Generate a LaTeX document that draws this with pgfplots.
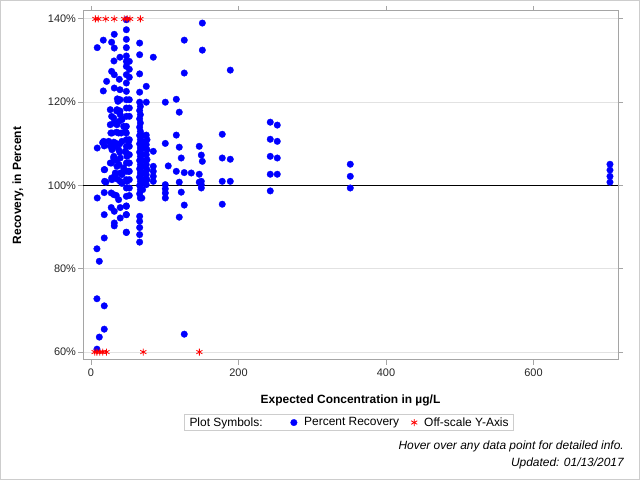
\documentclass[border=0pt]{standalone}
\usepackage{pgfplots}
\pgfplotsset{compat=1.18}
\usepackage{fontspec}
\setmainfont{Liberation Sans}
\definecolor{framegray}{RGB}{165,165,165}
\definecolor{gridgray}{RGB}{226,226,226}
\definecolor{boxgray}{RGB}{205,205,205}

% Percent recovery for each sample, by expected concentration (ug/L)
\pgfplotstableread{
x y
8.5 133.1
16.7 134.9
28 134.4
31.6 136.3
31.6 133
31.2 129.9
39.3 130.8
28 127.4
31.6 126.6
38.4 125.5
21.2 125
16.7 122.7
31.6 123.4
39.3 123
35.7 120.8
39.3 120.6
28 116.6
34.8 117.9
39.3 117.9
31.2 115
38 115.4
27 112.6
34.8 112.8
41 112.6
8.5 109
15.8 110.3
18 109.5
26 109.5
31 110.4
33 109.5
39 110
39 108
28 105.4
31 107
35 106
38 105
18 103.8
20.3 100.8
28 101.8
33 103
36 101.5
40 103
42 100.5
8.5 97
18 98.3
27.5 98.2
31 97.8
34.3 97.6
37.5 96.6
27.5 94.7
31.6 93.8
39.7 94.7
47.9 95.1
18 93
31.6 91
31.6 90.3
39.7 92.2
47.9 93
47.9 88.8
18 87.4
8.1 84.8
11.3 81.8
8.1 72.8
18 71.1
18 65.5
11.3 63.6
8.1 60.7
36.6 120.2
26.2 118.2
35.3 118.2
39.7 117
30.8 116.2
42 115.8
26.2 114.6
35.3 114.6
44.3 114.2
28.5 112.6
37.5 112.6
46.5 113
24 110.6
33 110.2
42 110.6
51 110.6
17.2 110.6
28.5 108.6
37.5 108.6
46.5 108.2
30.8 106.6
39.7 106.6
48.8 107
26.2 105.4
35.3 104.6
44.3 104.2
51 105.4
18.5 103.8
33 102.6
42 102.6
51 103.4
28.5 101.4
39.7 101
48.8 101
18.5 101
48 139.8
48 137.4
48 135.1
48 133.1
48 131.1
48 129.8
48 128.6
48 126.6
48 124.6
48 122.6
48 120.6
48 118.6
48 116.6
48 114.2
48 112.6
48 111
48 109.4
48 107.8
48 105.4
48 103.4
48 101.4
48 99.4
48 97.4
48 95
48 93
48 88.7
52 129.8
52 127.9
52 126
52 120.6
52 118.6
52 116.6
52 111
52 109.4
52 107.4
52 105.4
52 103.4
52 101.4
52 99.4
52 97.6
66 134.2
66 131.4
66 126.8
66 122.4
66 120
67 119
66 118
67 117
66 116
67 115
66 114
67 113
66 112
67 111
66 110
67 109
66 108
67 107
66 106
67 105
66 104
67 103
66 102
67 101
66 100
67 99
66 98
67 97
66 92.6
66 91.4
66 89.9
66 88.2
66 86.4
70 112
70 110.5
70 109
70 107.5
70 106
70 104.5
70 103
70 101.5
70 100.5
70 99
69 97
75 123.8
75 120
75 112.1
76 111
75 109.8
76 108.6
75 107.4
76 106.2
75 105
76 103.8
75 102.6
76 101.4
75 100.2
84.5 130.8
84.5 108.2
84.5 104.6
84.5 103.4
84.5 102.2
84.5 101
100.8 120
100.8 110.1
100.8 100.2
100.8 99.2
100.8 98.2
100.8 97
104.8 104.7
115.7 120.7
115.7 112.1
115.7 103.4
119.7 117.6
119.7 109.2
119.7 100.8
119.7 92.4
122.4 106.6
122.4 98.4
126.5 134.9
126.5 127
126.5 103.1
126.5 95.3
126.5 64.3
136 103
146.8 109.4
146.8 102.7
146.8 100.8
149.6 107.3
149.6 101
149.6 100.2
149.6 99.4
151 139
151 132.5
151 105.8
178 112.3
178 106.6
178 101
178 95.5
188.9 127.7
188.9 106.3
188.9 101
243.1 115.2
243.1 111.1
243.1 107
243.1 102.7
243.1 98.7
252.6 114.5
252.6 110.6
252.6 106.6
252.6 102.7
351.6 105.1
351.6 102.2
351.6 99.4
703.7 105.1
703.7 103.7
703.7 102.2
703.7 100.8
}\recovery

% Samples whose recovery lies off the scale, shown at the top or bottom edge
\pgfplotstableread{
x y
6 140
10 140
20 140
31.6 140
45 140
49 140
53 140
67 140
}\offhigh
\pgfplotstableread{
x y
5 60
8 60
12 60
16 60
21 60
71 60
147 60
}\offlow

\begin{document}
\begin{tikzpicture}[x=1bp,y=1bp]
\useasboundingbox (0,0) rectangle (640,480);
\draw[boxgray, line width=1bp] (0.5,0.5) rectangle (639.5,479.5);
\begin{axis}[
  at={(83bp,120bp)}, anchor=south west,
  width=535bp, height=349bp, scale only axis,
  xmin=-10.8, xmax=714.6, ymin=58.1, ymax=141.9,
  axis line style={framegray, line width=1bp},
  tick style={framegray, line width=0.8bp},
  tick align=outside, major tick length=5bp,
  xtick={0,200,400,600}, xticklabels={0,200,400,600},
  ytick={60,80,120,140}, yticklabels={60\%,80\%,120\%,140\%},
  extra y ticks={100}, extra y tick labels={100\%},
  extra y tick style={grid=major, major grid style={black, line width=1bp}},
  ymajorgrids, major grid style={gridgray, line width=0.8bp},
  ticklabel style={font=\fontsize{11}{13}\selectfont, text=black!85},
  yticklabel style={xshift=1.5bp},
  xlabel={Expected Concentration in µg/L},
  ylabel={Recovery, in Percent},
  label style={font=\bfseries\fontsize{12}{14}\selectfont},
  xlabel style={at={(axis description cs:0.5,-0.1146)}, anchor=center},
  ylabel style={at={(axis description cs:-0.1215,0.5)}, anchor=center},
  legend columns=3,
  legend cell align=left,
  legend style={at={(axis description cs:0.1888,-0.1547)}, anchor=north west,
    draw=boxgray, line width=1bp, font=\fontsize{12}{14}\selectfont,
    inner xsep=3bp, inner ysep=1bp,
    /tikz/column 2/.style={column sep=26bp},
    /tikz/column 3/.style={column sep=5bp},
    /tikz/column 4/.style={column sep=10bp},
    /tikz/column 5/.style={column sep=5bp},
    /tikz/column 6/.style={column sep=10bp}},
]
\addlegendimage{empty legend}
\addlegendentry{Plot Symbols:}
\addplot[only marks, mark=*, mark size=3.3bp, color=blue,
  mark options={draw=blue, fill=blue, line width=0.3bp}] table {\recovery};
\addlegendentry{Percent Recovery}
\addplot[only marks, mark=asterisk, mark size=3.5bp, color=red,
  mark options={line width=0.8bp}] table {\offhigh};
\addlegendentry{Off-scale Y-Axis}
\addplot[only marks, mark=asterisk, mark size=3.5bp, color=red,
  mark options={line width=0.8bp}, forget plot] table {\offlow};
\end{axis}
\node[anchor=east, inner sep=0pt, font=\itshape\fontsize{12}{14}\selectfont] at (624,34) {Hover over any data point for detailed info.};
\node[anchor=east, inner sep=0pt, font=\itshape\fontsize{12}{14}\selectfont] at (624,17) {Updated: 01/13/2017};
\end{tikzpicture}
\end{document}
